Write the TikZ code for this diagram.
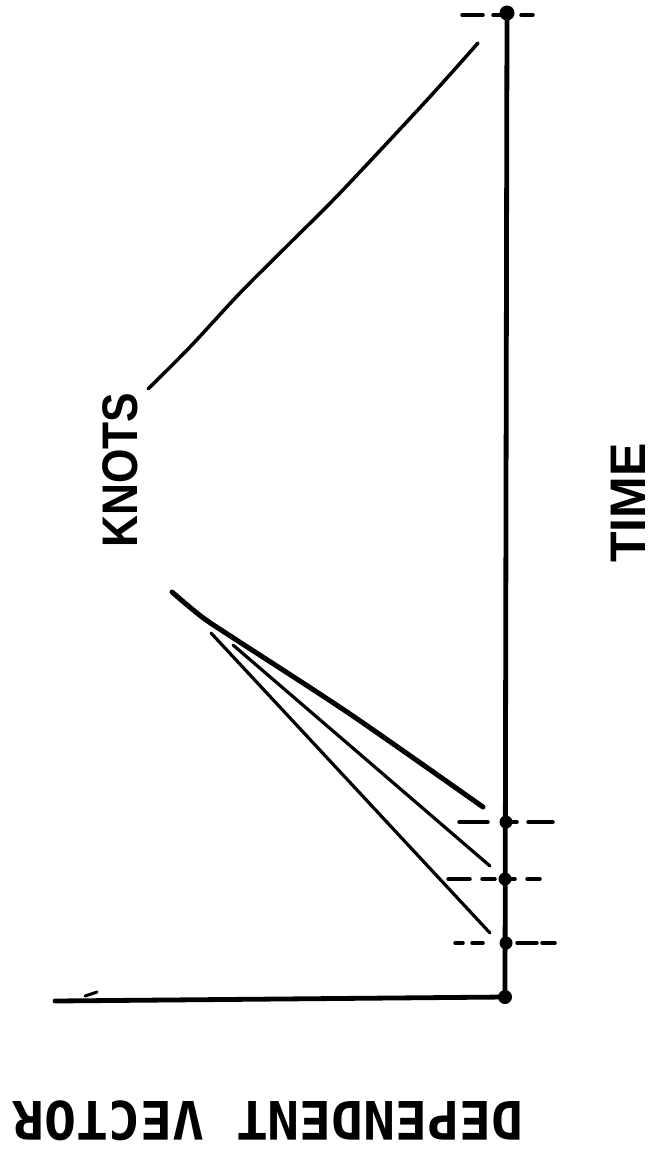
\documentclass[tikz,border=0pt]{standalone}
\usepackage{fontspec}
\setsansfont{Liberation Sans}
\newfontfamily\typefont{DejaVu Sans Mono}
\usepackage{graphicx}
\begin{document}
\begin{tikzpicture}[x=1pt, y=-1pt, line cap=round,
  axis/.style={line width=4.8pt},
  guide/.style={line width=3.5pt},
  knot/.style={fill, circle, inner sep=0pt, minimum size=13pt},
  label/.style={inner sep=0pt, font=\sffamily\bfseries\fontsize{50}{60}\selectfont}]
\useasboundingbox (0,0) rectangle (655,1151);
% axes
\coordinate (O) at (505,997);
\coordinate (top) at (507,13);
\draw[axis] (top)--(O)--(55,1001);
\draw[line width=3pt] (85,996)--(97,992);
% knots on the time axis
\node[knot, minimum size=15pt] (k0) at (top) {};
\node[knot] (k1) at (506,822) {};
\node[knot] (k2) at (505,879) {};
\node[knot] (k3) at (506,943) {};
\node[knot, minimum size=14pt] at (O) {};
\draw[guide, dash pattern=on 21pt off 10pt on 12pt off 16pt on 12pt] (462,15)--(533,15);
\draw[guide, dash pattern=on 29pt off 17pt on 12pt off 11pt on 25pt] (459,822)--(553,822);
\draw[guide, dash pattern=on 22pt off 12pt on 13pt off 10pt on 10pt off 12pt on 13pt] (448,879)--(540,879);
\draw[guide, dash pattern=on 8pt off 9pt on 11pt off 34pt on 20pt off 5pt on 13pt] (455,943)--(555,943);
% curves
\draw[line width=3.5pt] plot[smooth] coordinates {(478,43) (427,100) (340,193) (290,243) (240,293) (190,347) (148,389)};
\draw[line width=5pt] plot[smooth] coordinates {(172,592) (202,617) (235,639) (350,714) (483,807)};
\draw[line width=3.2pt] (233,645)--(490,866);
\draw[line width=3.2pt] (211,633)--(490,933);
% labels
\node[label, rotate=90] (knots) at (120,470) {\scalebox{0.886}[1]{KNOTS}};
\node[label, rotate=90] (time) at (628,503) {TIME};
\node[inner sep=0pt, rotate=180, font=\typefont\bfseries\fontsize{53}{60}\selectfont] (dv) at (268,1121) {DEPENDENT VECTOR};
\end{tikzpicture}
\end{document}
